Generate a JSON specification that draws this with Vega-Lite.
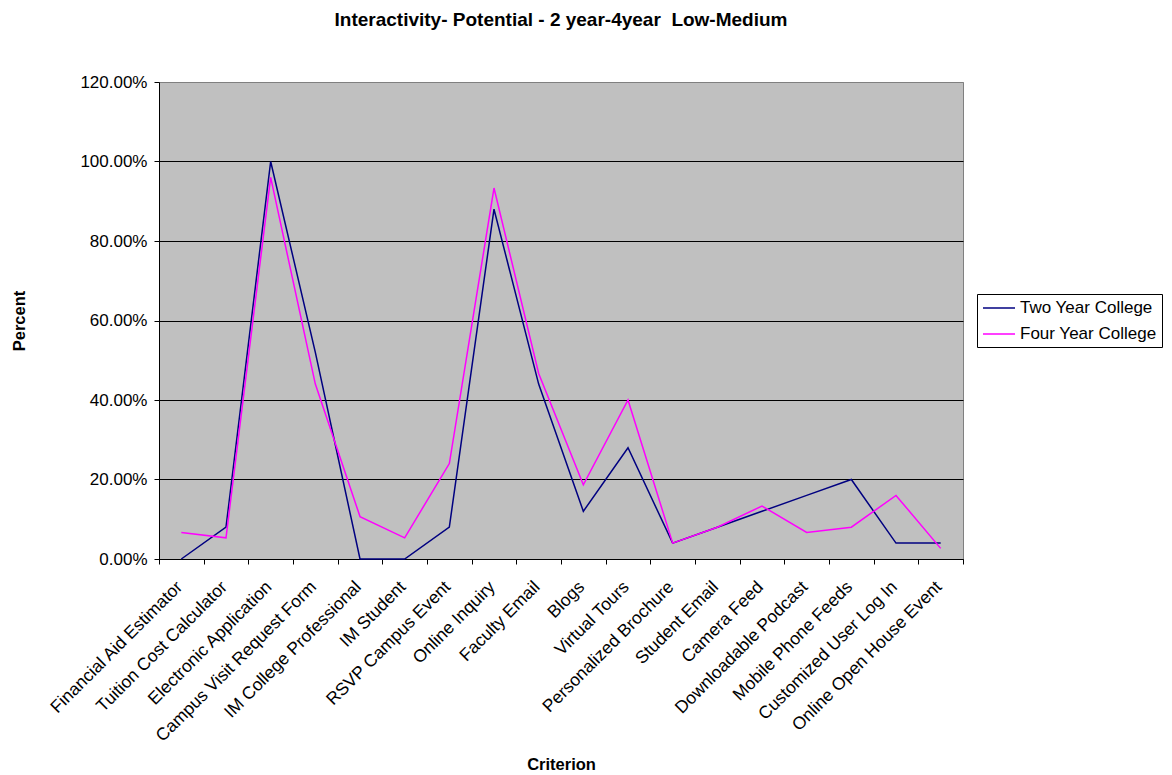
{
  "$schema": "https://vega.github.io/schema/vega-lite/v6.json",
  "width": 804,
  "height": 477,
  "autosize": {"type": "none"},
  "padding": {"left": 159, "top": 82, "right": 209, "bottom": 216},
  "background": "white",
  "title": {
    "text": "Interactivity- Potential - 2 year-4year \u00a0Low-Medium",
    "font": "Liberation Sans",
    "fontSize": 19,
    "fontWeight": "bold",
    "color": "black",
    "anchor": "middle",
    "frame": "group",
    "baseline": "alphabetic",
    "offset": 28
  },
  "data": {
    "values": [
      {"criterion": "Financial Aid Estimator", "college": "Two Year College", "pct": 0.0},
      {"criterion": "Tuition Cost Calculator", "college": "Two Year College", "pct": 0.08},
      {"criterion": "Electronic Application", "college": "Two Year College", "pct": 1.0},
      {"criterion": "Campus Visit Request Form", "college": "Two Year College", "pct": 0.52},
      {"criterion": "IM College Professional", "college": "Two Year College", "pct": 0.0},
      {"criterion": "IM Student", "college": "Two Year College", "pct": 0.0},
      {"criterion": "RSVP Campus Event", "college": "Two Year College", "pct": 0.08},
      {"criterion": "Online Inquiry", "college": "Two Year College", "pct": 0.88},
      {"criterion": "Faculty Email", "college": "Two Year College", "pct": 0.44},
      {"criterion": "Blogs", "college": "Two Year College", "pct": 0.12},
      {"criterion": "Virtual Tours", "college": "Two Year College", "pct": 0.28},
      {"criterion": "Personalized Brochure", "college": "Two Year College", "pct": 0.04},
      {"criterion": "Student Email", "college": "Two Year College", "pct": 0.08},
      {"criterion": "Camera Feed", "college": "Two Year College", "pct": 0.12},
      {"criterion": "Downloadable Podcast", "college": "Two Year College", "pct": 0.16},
      {"criterion": "Mobile Phone Feeds", "college": "Two Year College", "pct": 0.2},
      {"criterion": "Customized User Log In", "college": "Two Year College", "pct": 0.04},
      {"criterion": "Online Open House Event", "college": "Two Year College", "pct": 0.04},
      {"criterion": "Financial Aid Estimator", "college": "Four Year College", "pct": 0.0667},
      {"criterion": "Tuition Cost Calculator", "college": "Four Year College", "pct": 0.0533},
      {"criterion": "Electronic Application", "college": "Four Year College", "pct": 0.96},
      {"criterion": "Campus Visit Request Form", "college": "Four Year College", "pct": 0.44},
      {"criterion": "IM College Professional", "college": "Four Year College", "pct": 0.1067},
      {"criterion": "IM Student", "college": "Four Year College", "pct": 0.0533},
      {"criterion": "RSVP Campus Event", "college": "Four Year College", "pct": 0.24},
      {"criterion": "Online Inquiry", "college": "Four Year College", "pct": 0.9333},
      {"criterion": "Faculty Email", "college": "Four Year College", "pct": 0.4667},
      {"criterion": "Blogs", "college": "Four Year College", "pct": 0.1867},
      {"criterion": "Virtual Tours", "college": "Four Year College", "pct": 0.4},
      {"criterion": "Personalized Brochure", "college": "Four Year College", "pct": 0.04},
      {"criterion": "Student Email", "college": "Four Year College", "pct": 0.08},
      {"criterion": "Camera Feed", "college": "Four Year College", "pct": 0.1333},
      {"criterion": "Downloadable Podcast", "college": "Four Year College", "pct": 0.0667},
      {"criterion": "Mobile Phone Feeds", "college": "Four Year College", "pct": 0.08},
      {"criterion": "Customized User Log In", "college": "Four Year College", "pct": 0.16},
      {"criterion": "Online Open House Event", "college": "Four Year College", "pct": 0.0267}
    ]
  },
  "mark": {"type": "line", "strokeWidth": 1.5, "interpolate": "linear"},
  "encoding": {
    "x": {
      "field": "criterion",
      "type": "nominal",
      "sort": null,
      "bandPosition": 0.5,
      "scale": {"type": "band", "paddingInner": 0, "paddingOuter": 0},
      "axis": {
        "title": "Criterion",
        "labelAngle": -45,
        "labelAlign": "right",
        "labelBaseline": "middle",
        "labelOffset": -2,
        "labelPadding": 20,
        "labelLimit": 0,
        "labelFont": "Liberation Sans",
        "labelFontSize": 17.5,
        "labelColor": "black",
        "tickBand": "extent",
        "tickSize": 5,
        "tickColor": "black",
        "domainColor": "black",
        "grid": false,
        "titleFont": "Liberation Sans",
        "titleFontSize": 16.5,
        "titleFontWeight": "bold",
        "titleColor": "black",
        "titleX": 402,
        "titleY": 210,
        "titleBaseline": "alphabetic",
        "titleAlign": "center"
      }
    },
    "y": {
      "field": "pct",
      "type": "quantitative",
      "scale": {"domain": [0, 1.2], "nice": false},
      "axis": {
        "title": "Percent",
        "format": ".2%",
        "values": [0, 0.2, 0.4, 0.6, 0.8, 1.0, 1.2],
        "grid": true,
        "gridColor": {"condition": {"test": "datum.value >= 1.19", "value": "#808080"}, "value": "black"},
        "gridOpacity": 1,
        "gridWidth": 1,
        "domainColor": "black",
        "tickColor": "black",
        "tickSize": 5,
        "labelPadding": 7,
        "labelFont": "Liberation Sans",
        "labelFontSize": 17,
        "labelColor": "black",
        "titleFont": "Liberation Sans",
        "titleFontSize": 16.5,
        "titleFontWeight": "bold",
        "titleColor": "black",
        "titleAngle": -90,
        "titleX": -135,
        "titleY": 238.5,
        "titleBaseline": "alphabetic",
        "titleAlign": "center"
      }
    },
    "color": {
      "field": "college",
      "type": "nominal",
      "sort": ["Two Year College", "Four Year College"],
      "scale": {"domain": ["Two Year College", "Four Year College"], "range": ["#000080", "#FF00FF"]},
      "legend": {
        "title": null,
        "orient": "none",
        "legendX": 818,
        "legendY": 212,
        "direction": "vertical",
        "strokeColor": "black",
        "fillColor": "white",
        "padding": 5,
        "symbolType": "M-1,0H3",
        "symbolSize": 256,
        "symbolStrokeWidth": 1.5,
        "labelFont": "Liberation Sans",
        "labelFontSize": 17,
        "labelColor": "black",
        "labelOffset": 20,
        "rowPadding": 9
      }
    }
  },
  "config": {
    "view": {"fill": "#C0C0C0", "stroke": "#808080", "strokeWidth": 1}
  }
}
